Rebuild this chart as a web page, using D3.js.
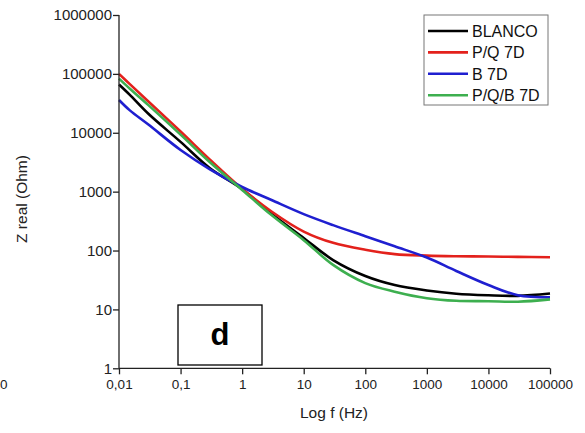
<!DOCTYPE html>
<html>
<head>
<meta charset="utf-8">
<script src="https://cdn.jsdelivr.net/npm/d3@7/dist/d3.min.js"></script>
<style>
  body { margin: 0; background: #fff; }
  svg { font-family: Arial, "Liberation Sans", sans-serif; }
</style>
</head>
<body>
<svg id="chart"></svg>
<script>
// frequencies (Hz) and Z real (Ohm)
const freq   = [0.01, 0.015, 0.03, 0.1, 0.3, 1, 3, 10, 30, 100, 300, 1000, 3000, 10000, 30000, 100000];
const blanco = [66000, 44000, 21000, 7000, 2500, 1100, 420, 163, 69, 37, 26, 21, 18.5, 17.4, 17, 18.6];
const pq7d   = [100000, 67000, 34000, 10500, 3500, 1120, 460, 210, 135, 103, 87, 82, 80, 79, 78, 77];
const b7d    = [36000, 24000, 13800, 5100, 2400, 1200, 720, 415, 270, 175, 118, 76, 45, 26, 17.4, 16];
const pqb7d  = [83000, 56000, 29500, 9300, 3150, 1070, 400, 150, 57, 28, 20, 15.5, 14, 13.8, 13.5, 14.8];

const seriesNames = ["BLANCO", "P/Q 7D", "B 7D", "P/Q/B 7D"];
const seriesColors = ["#000000", "#e3211c", "#1f1fd0", "#3daf4f"];
const seriesValues = [blanco, pq7d, b7d, pqb7d];

const xTicks = [0.01, 0.1, 1, 10, 100, 1000, 10000, 100000];
const xTickLabels = ["0,01", "0,1", "1", "10", "100", "1000", "10000", "100000"];
const yTicks = [1, 10, 100, 1000, 10000, 100000, 1000000];
const yTickLabels = ["1", "10", "100", "1000", "10000", "100000", "1000000"];

const width = 585, height = 433;
const svg = d3.select("#chart").attr("width", width).attr("height", height);

const x = d3.scaleLog().domain([0.01, 100000]).range([119, 550]);
const y = d3.scaleLog().domain([1, 1000000]).range([368.3, 15]);

// minor ticks 2..9 of each decade
function minors(lo, hi) {
  const out = [];
  for (let d = lo; d < hi; d *= 10) {
    for (let k = 2; k <= 9; k++) out.push(d * k);
  }
  return out;
}

// curves
const line = d3.line().x(d => x(d[0])).y(d => y(d[1])).curve(d3.curveCatmullRom.alpha(0.5));
seriesValues.forEach(function(vals, i) {
  svg.append("path")
    .datum(freq.map((f, j) => [f, vals[j]]))
    .attr("d", line)
    .attr("fill", "none")
    .attr("stroke", seriesColors[i])
    .attr("stroke-width", 2.6)
    .attr("stroke-linejoin", "round");
});

// x axis
const gx = svg.append("g").attr("transform", "translate(0,368.3)");
gx.call(d3.axisBottom(x).tickValues(minors(0.01, 100000)).tickSize(3).tickFormat(""));
gx.call(d3.axisBottom(x).tickValues(xTicks).tickSize(6).tickFormat((d, i) => xTickLabels[i]));
gx.selectAll("text").attr("font-size", 13.5).attr("fill", "#222").attr("dy", "0.85em");
gx.selectAll("line, path").attr("stroke", "#222").attr("stroke-width", 1.3);
gx.select(".domain").attr("d", "M119,0H550");

// y axis
const gy = svg.append("g").attr("transform", "translate(119,0)");
gy.call(d3.axisLeft(y).tickValues(minors(1, 1000000)).tickSize(3).tickFormat(""));
gy.call(d3.axisLeft(y).tickValues(yTicks).tickSize(6).tickFormat((d, i) => yTickLabels[i]));
gy.selectAll("text").attr("font-size", 15).attr("fill", "#222").attr("x", -7);
gy.selectAll("line, path").attr("stroke", "#222").attr("stroke-width", 1.3);
gy.select(".domain").attr("d", "M0,15V368.3");

// axis titles
svg.append("text")
  .attr("x", 334).attr("y", 418)
  .attr("text-anchor", "middle").attr("font-size", 15.5).attr("fill", "#222")
  .text("Log f (Hz)");
svg.append("text")
  .attr("transform", "translate(27,199) rotate(-90)")
  .attr("text-anchor", "middle").attr("font-size", 15.5).attr("fill", "#222")
  .text("Z real (Ohm)");

// leftover label from the neighbouring panel
svg.append("text")
  .attr("x", 0).attr("y", 389).attr("font-size", 13.5).attr("fill", "#222")
  .text("0");

// panel tag
svg.append("rect")
  .attr("x", 178).attr("y", 305).attr("width", 84).attr("height", 60)
  .attr("fill", "#fff").attr("stroke", "#000").attr("stroke-width", 1.3);
svg.append("text")
  .attr("x", 220).attr("y", 345)
  .attr("text-anchor", "middle").attr("font-size", 31).attr("font-weight", "bold")
  .text("d");

// legend
const legend = svg.append("g");
legend.append("rect")
  .attr("x", 424).attr("y", 15).attr("width", 124).attr("height", 90)
  .attr("fill", "#fff").attr("stroke", "#777").attr("stroke-width", 1);
seriesNames.forEach(function(name, i) {
  const ly = 31 + i * 21.4;
  legend.append("line")
    .attr("x1", 428).attr("x2", 468).attr("y1", ly).attr("y2", ly)
    .attr("stroke", seriesColors[i]).attr("stroke-width", 2.6);
  legend.append("text")
    .attr("x", 472).attr("y", ly).attr("dy", "0.36em")
    .attr("font-size", 16).attr("fill", "#111")
    .text(name);
});
</script>
</body>
</html>
